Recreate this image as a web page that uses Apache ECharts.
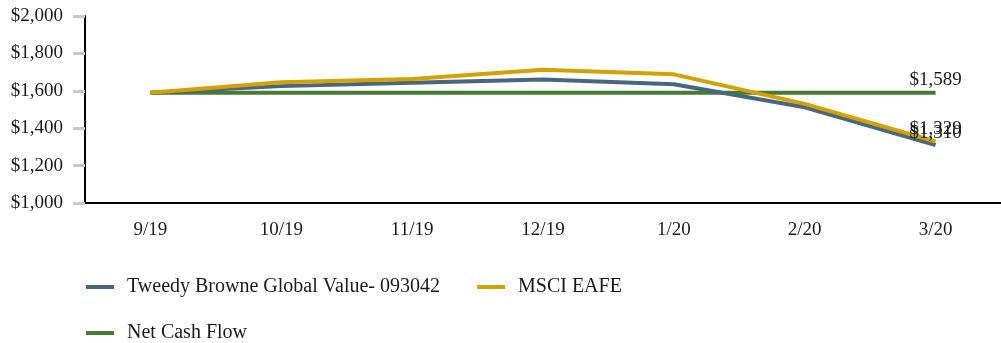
<!DOCTYPE html>
<html>
<head>
<meta charset="utf-8">
<script src="https://cdn.jsdelivr.net/npm/echarts@6/dist/echarts.min.js"></script>
<style>
  html, body { margin: 0; padding: 0; background: #fff; }
  #chart { width: 1001px; height: 343px; }
</style>
</head>
<body>
<div id="chart"></div>
<script>
// Growth of a $1,589 investment, month-end values
const categories = ['9/19', '10/19', '11/19', '12/19', '1/20', '2/20', '3/20'];
const tweedyValues = [1589, 1625, 1643, 1660, 1635, 1512, 1310];
const eafeValues = [1589, 1646, 1663, 1712, 1688, 1530, 1329];
const cashFlowValues = [1589, 1589, 1589, 1589, 1589, 1589, 1589];
const yTicks = [1000, 1200, 1400, 1600, 1800, 2000];

const FONT = '"Liberation Serif", "Times New Roman", serif';
const TEXT = '#1a1a1a';

function money(v) {
  return '$' + v.toLocaleString('en-US');
}

// Only the final point of each line carries a value label
function withEndLabel(values) {
  return values.map((v, i) => i === values.length - 1
    ? { value: v, label: { show: true } }
    : v);
}

const endLabel = {
  show: false,
  position: 'top',
  distance: 3,
  color: TEXT,
  fontFamily: FONT,
  fontSize: 19,
  formatter: p => money(p.value)
};

function lineSeries(name, values, color) {
  return {
    name: name,
    type: 'line',
    data: withEndLabel(values),
    symbol: 'circle',
    symbolSize: 0,
    showSymbol: true,
    color: color,
    lineStyle: { width: 4 },
    label: endLabel,
    emphasis: { disabled: true }
  };
}

const chart = echarts.init(document.getElementById('chart'), null, { renderer: 'canvas' });
chart.setOption({
  animation: false,
  grid: { left: 85, right: 0, top: 16, bottom: 140, containLabel: false },
  xAxis: {
    type: 'category',
    data: categories,
    boundaryGap: true,
    axisLine: { lineStyle: { color: '#000', width: 2 } },
    axisTick: { alignWithLabel: true, length: 12, lineStyle: { color: '#c8c8c8', width: 3 } },
    axisLabel: { color: TEXT, fontFamily: FONT, fontSize: 19, margin: 18 },
    splitLine: { show: false }
  },
  yAxis: {
    type: 'value',
    min: yTicks[0],
    max: yTicks[yTicks.length - 1],
    interval: yTicks[1] - yTicks[0],
    axisLine: { show: true, lineStyle: { color: '#000', width: 2 } },
    axisTick: { show: true, length: 12, lineStyle: { color: '#c8c8c8', width: 3 } },
    axisLabel: { color: TEXT, fontFamily: FONT, fontSize: 19, margin: 22, formatter: money },
    splitLine: { show: false }
  },
  legend: [
    {
      data: ['Tweedy Browne Global Value- 093042', 'MSCI EAFE'],
      left: 81, top: 272,
      icon: 'rect', itemWidth: 28, itemHeight: 4, itemGap: 37,
      textStyle: { color: TEXT, fontFamily: FONT, fontSize: 20, padding: [0, 0, 0, 8] }
    },
    {
      data: ['Net Cash Flow'],
      left: 81, top: 318,
      icon: 'rect', itemWidth: 28, itemHeight: 4,
      textStyle: { color: TEXT, fontFamily: FONT, fontSize: 20, padding: [0, 0, 0, 8] }
    }
  ],
  series: [
    lineSeries('Net Cash Flow', cashFlowValues, '#477a35'),
    lineSeries('Tweedy Browne Global Value- 093042', tweedyValues, '#48677f'),
    lineSeries('MSCI EAFE', eafeValues, '#d3a100')
  ]
});
</script>
</body>
</html>
